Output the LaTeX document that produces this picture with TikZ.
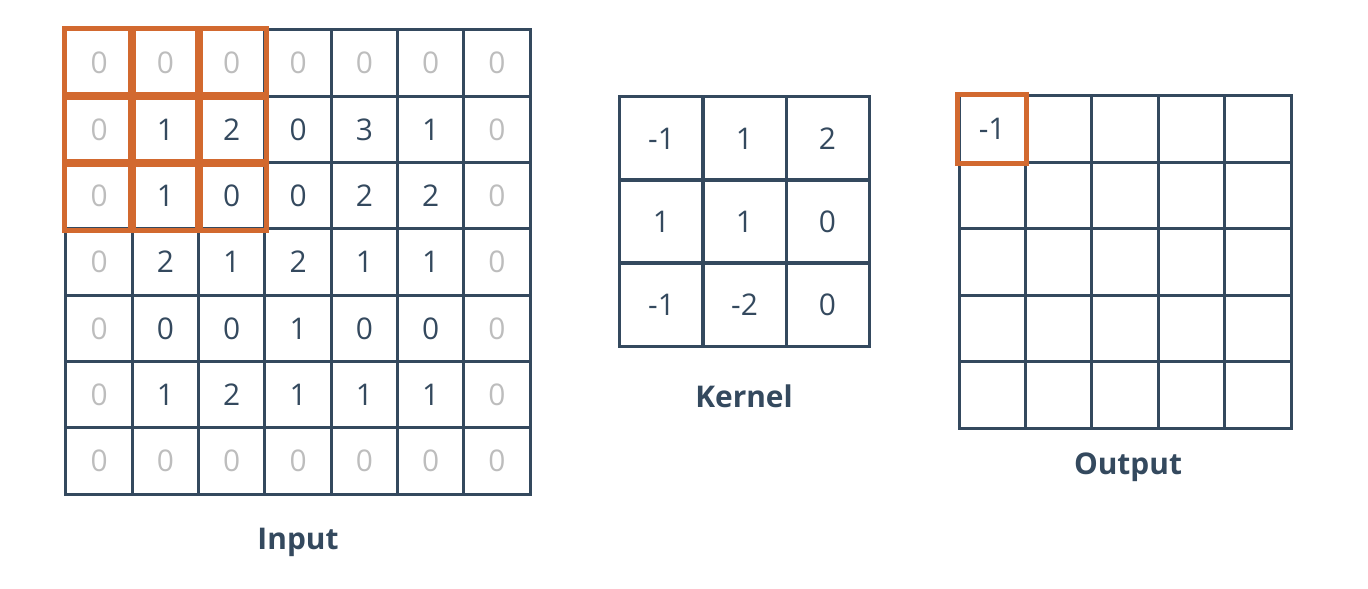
\documentclass[tikz,border=0pt]{standalone}
\usepackage{fontspec}
\setmainfont{Open Sans}
\usetikzlibrary{positioning}
\definecolor{slate}{HTML}{34495E}
\definecolor{rust}{HTML}{D2692F}
\definecolor{padgray}{HTML}{BDBDBD}
\tikzset{
cell/.style={%
    rectangle,
    inner sep=0pt,
    draw=slate,
    line width=0.85pt,
    text=slate,
    font=\fontsize{8.5}{10}\selectfont
},
incell/.style={cell, minimum size=6.63mm},
kcell/.style={cell, minimum size=8.3mm},
outcell/.style={cell, minimum size=6.64mm},
window/.style={draw=rust, line width=1.45pt},
caption/.style={text=slate, font=\bfseries\fontsize{8.5}{10}\selectfont},
}

\begin{document}
\begin{tikzpicture}[x=0.01cm, y=-0.01cm]
	\useasboundingbox (0,0) rectangle (1368,588);
	% input, padded
	\foreach \row [count=\r from 0] in {{0,0,0,0,0,0,0},{0,1,2,0,3,1,0},{0,1,0,0,2,2,0},{0,2,1,2,1,1,0},{0,0,0,1,0,0,0},{0,1,2,1,1,1,0},{0,0,0,0,0,0,0}} {
		\foreach \v [count=\c from 0] in \row {
			\pgfmathtruncatemacro\edge{or(or(\r==0,\r==6),or(\c==0,\c==6))}
			\ifnum\edge=1 \def\tc{padgray}\else\def\tc{slate}\fi
			\node[incell, text=\tc] (in-\r-\c) at ({66+66.3*(\c+0.5)},{30+66.3*(\r+0.5)}) {\v};
		}
	}
	% kernel
	\foreach \row [count=\r from 0] in {{-1,1,2},{1,1,0},{-1,-2,0}} {
		\foreach \v [count=\c from 0] in \row {
			\node[kcell] (k-\r-\c) at ({620+83*(\c+0.5)},{97+83*(\r+0.5)}) {\v};
		}
	}
	% output
	\foreach \r in {0,...,4} {
		\foreach \c in {0,...,4} {
			\node[outcell] (out-\r-\c) at ({959+66.4*(\c+0.5)},{96+66.4*(\r+0.5)}) {};
		}
	}
	\node[font=\fontsize{8.5}{10}\selectfont, text=slate] at (out-0-0) {-1};

	% sliding window
	\foreach \r in {0,1,2} {
		\foreach \c in {0,1,2} {
			\draw[window] (in-\r-\c.north west) rectangle (in-\r-\c.south east);
		}
	}
	\draw[window] (out-0-0.north west) rectangle (out-0-0.south east);

	\node[caption] (input) at (298,542) {Input};
	\node[caption] (kernel) at (744,396) {Kernel};
	\node[caption] (output) at (1128,467) {Output};
\end{tikzpicture}
\end{document}
